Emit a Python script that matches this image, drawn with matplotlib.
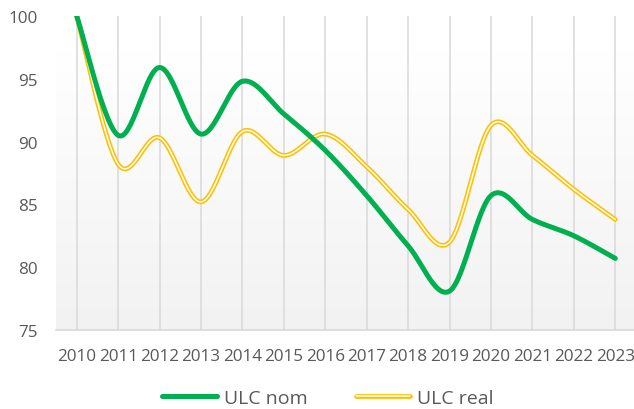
import numpy as np
import matplotlib.pyplot as plt
from matplotlib.lines import Line2D
import matplotlib.patheffects as pe

years = ['2010', '2011', '2012', '2013', '2014', '2015', '2016',
         '2017', '2018', '2019', '2020', '2021', '2022', '2023']
ulc_nom = [100, 90.5, 95.9, 90.6, 94.8, 92.2, 89.3,
           85.7, 81.7, 78.1, 85.7, 83.8, 82.5, 80.7]
ulc_real = [100, 88.2, 90.3, 85.2, 90.8, 88.9, 90.6,
            88.0, 84.6, 82.0, 91.3, 88.9, 86.2, 83.8]

GREEN = '#00B050'
YELLOW = '#FFC000'
GREY_TXT = '#595959'

plt.rcParams['font.family'] = ['Open Sans', 'DejaVu Sans']


def smooth(y, n=30):
    # Excel-style smoothed line: Catmull-Rom through each point
    y = np.asarray(y, dtype=float)
    x = np.arange(len(y), dtype=float)
    px, py = [], []
    for i in range(len(y) - 1):
        x0, y0 = (x[i - 1], y[i - 1]) if i > 0 else (x[i], y[i])
        x3, y3 = (x[i + 2], y[i + 2]) if i + 2 < len(y) else (x[i + 1], y[i + 1])
        x1, y1, x2, y2 = x[i], y[i], x[i + 1], y[i + 1]
        # bezier control points
        c1x, c1y = x1 + (x2 - x0) / 6, y1 + (y2 - y0) / 6
        c2x, c2y = x2 - (x3 - x1) / 6, y2 - (y3 - y1) / 6
        t = np.linspace(0, 1, n, endpoint=(i == len(y) - 2))
        a, b, c, d = (1 - t) ** 3, 3 * (1 - t) ** 2 * t, 3 * (1 - t) * t ** 2, t ** 3
        px.extend(a * x1 + b * c1x + c * c2x + d * x2)
        py.extend(a * y1 + b * c1y + c * c2y + d * y2)
    return np.array(px), np.array(py)


fig = plt.figure(figsize=(6.34, 4.10), dpi=100)
ax = fig.add_axes([56 / 634, 79 / 410, 580 / 634, 314 / 410])

# background gradient: light grey at the bottom, white at the top
grad = np.clip(np.linspace(0.0, 1.12, 256), 0, 1)
grad = (0.949 + 0.051 * grad).reshape(-1, 1)
ax.imshow(np.dstack([grad, grad, grad]), aspect='auto',
          extent=(-0.5, len(years) - 0.5, 75, 100), origin='lower', zorder=0)
ax.set_xlim(-0.5, len(years) - 0.5)
ax.set_ylim(75, 100)

for i in range(len(years)):
    ax.axvline(i, color='#d9d9d9', lw=1.1, zorder=1)

xs, ys = smooth(ulc_nom)
ax.plot(xs, ys, color=GREEN, lw=3.6, solid_capstyle='round', zorder=4)

xr, yr = smooth(ulc_real)
ax.plot(xr, yr, color=YELLOW, lw=3.4, solid_capstyle='round', zorder=3)
ax.plot(xr, yr, color='white', lw=1.1, solid_capstyle='round', zorder=3)

ax.set_xticks(range(len(years)))
ax.set_xticklabels(years)
ax.set_yticks([75, 80, 85, 90, 95, 100])
ax.tick_params(axis='both', length=0, labelsize=12.3, colors=GREY_TXT)
ax.tick_params(axis='x', pad=13)
ax.tick_params(axis='y', pad=13)

for s in ['top', 'right', 'left']:
    ax.spines[s].set_visible(False)
ax.spines['bottom'].set_color('#d9d9d9')
ax.spines['bottom'].set_linewidth(1.2)
ax.spines['bottom'].set_zorder(2)

h_nom = Line2D([], [], color=GREEN, lw=3.6, solid_capstyle='round')
h_real = Line2D([], [], color=YELLOW, lw=3.4, solid_capstyle='round',
                path_effects=[pe.Stroke(linewidth=3.4, foreground=YELLOW),
                              pe.Stroke(linewidth=1.1, foreground='white')])
leg = fig.legend([h_nom, h_real], ['ULC nom', 'ULC real'], loc='center',
                 bbox_to_anchor=(328 / 634, 1 - 399 / 410), ncol=2,
                 frameon=False, fontsize=14, handlelength=2.8,
                 handletextpad=0.35, columnspacing=2.5)
for t in leg.get_texts():
    t.set_color(GREY_TXT)

fig.savefig('out.png', dpi=100)
